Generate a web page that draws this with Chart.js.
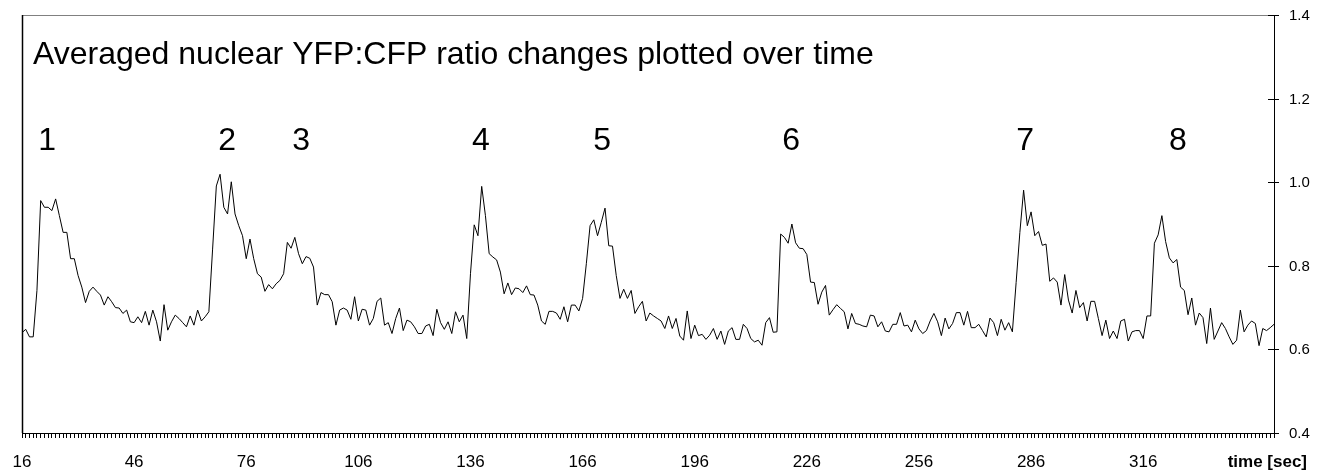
<!DOCTYPE html>
<html>
<head>
<meta charset="utf-8">
<title>YFP:CFP ratio</title>
<script src="https://cdn.jsdelivr.net/npm/chart.js@4.4.1/dist/chart.umd.min.js"></script>
<style>
  body { margin: 0; background: #fff; }
  canvas { display: block; }
</style>
</head>
<body>
<canvas id="grafico" width="1320" height="473"></canvas>
<script>
var titolo = 'Averaged nuclear YFP:CFP ratio changes plotted over time';
var startSec = 16;

// averaged nuclear YFP:CFP ratio, one value per second starting at 16 s
var ratio = [
    // 16 - 66
    0.640, 0.648, 0.630, 0.630, 0.741, 0.956, 0.940, 0.940, 0.932, 0.960,
    0.920, 0.880, 0.880, 0.817, 0.817, 0.777, 0.749, 0.712, 0.739, 0.749,
    0.739, 0.730, 0.706, 0.726, 0.714, 0.700, 0.699, 0.686, 0.694, 0.666,
    0.664, 0.678, 0.664, 0.691, 0.658, 0.694, 0.666, 0.620, 0.707, 0.646,
    0.666, 0.682, 0.674, 0.664, 0.654, 0.680, 0.658, 0.694, 0.668, 0.678,
    0.690,
    // 67 - 83
    0.840, 0.991, 1.019, 0.940, 0.924, 1.001, 0.924, 0.896, 0.872, 0.817,
    0.864, 0.817, 0.781, 0.773, 0.739, 0.755, 0.745,
    // 84 - 150
    0.757, 0.765, 0.781, 0.856, 0.842, 0.868, 0.829, 0.805, 0.822, 0.818,
    0.797, 0.706, 0.736, 0.731, 0.731, 0.714, 0.658, 0.694, 0.699, 0.694,
    0.672, 0.726, 0.668, 0.696, 0.694, 0.658, 0.674, 0.715, 0.723, 0.658,
    0.664, 0.638, 0.674, 0.699, 0.645, 0.670, 0.666, 0.654, 0.638, 0.638,
    0.656, 0.660, 0.633, 0.696, 0.664, 0.648, 0.666, 0.638, 0.690, 0.666,
    0.682, 0.626, 0.781, 0.898, 0.872, 0.990, 0.920, 0.829, 0.821, 0.814,
    0.785, 0.733, 0.759, 0.731, 0.747, 0.745, 0.736,
    // 151 - 217
    0.752, 0.731, 0.730, 0.706, 0.668, 0.660, 0.691, 0.691, 0.687, 0.672,
    0.702, 0.666, 0.706, 0.706, 0.692, 0.722, 0.805, 0.896, 0.910, 0.872,
    0.904, 0.938, 0.848, 0.847, 0.777, 0.722, 0.744, 0.722, 0.741, 0.686,
    0.702, 0.715, 0.668, 0.687, 0.680, 0.674, 0.668, 0.650, 0.680, 0.650,
    0.674, 0.632, 0.622, 0.692, 0.626, 0.658, 0.633, 0.636, 0.624, 0.634,
    0.650, 0.624, 0.644, 0.612, 0.644, 0.652, 0.624, 0.624, 0.660, 0.650,
    0.626, 0.618, 0.622, 0.610, 0.664, 0.676, 0.641,
    // 218 - 283
    0.642, 0.876, 0.868, 0.854, 0.900, 0.855, 0.842, 0.841, 0.827, 0.761,
    0.760, 0.708, 0.737, 0.753, 0.682, 0.695, 0.707, 0.698, 0.690, 0.649,
    0.686, 0.662, 0.660, 0.656, 0.654, 0.682, 0.680, 0.654, 0.666, 0.644,
    0.642, 0.660, 0.660, 0.688, 0.656, 0.658, 0.642, 0.670, 0.649, 0.638,
    0.645, 0.668, 0.686, 0.666, 0.633, 0.675, 0.649, 0.662, 0.688, 0.688,
    0.658, 0.691, 0.652, 0.652, 0.660, 0.645, 0.630, 0.675, 0.664, 0.633,
    0.672, 0.646, 0.664, 0.642, 0.760, 0.880,
    // 284 - 351
    0.981, 0.896, 0.929, 0.872, 0.882, 0.849, 0.852, 0.763, 0.771, 0.761,
    0.706, 0.779, 0.718, 0.687, 0.741, 0.700, 0.712, 0.668, 0.715, 0.715,
    0.674, 0.633, 0.670, 0.626, 0.644, 0.626, 0.668, 0.672, 0.620, 0.642,
    0.645, 0.645, 0.626, 0.680, 0.680, 0.854, 0.874, 0.920, 0.858, 0.819,
    0.807, 0.815, 0.749, 0.741, 0.683, 0.723, 0.658, 0.687, 0.676, 0.614,
    0.699, 0.624, 0.644, 0.664, 0.650, 0.630, 0.612, 0.622, 0.694, 0.642,
    0.658, 0.668, 0.662, 0.609, 0.650, 0.645, 0.652, 0.660
];

var xTickLabels = [16, 46, 76, 106, 136, 166, 196, 226, 256, 286, 316];
var yTickLabels = ['0.4', '0.6', '0.8', '1.0', '1.2', '1.4'];
var xTitle = 'time [sec]';

// numbered peaks and the second where each number sits
var peakNames = ['1', '2', '3', '4', '5', '6', '7', '8'];
var peakSec = [22.7, 70.9, 90.7, 138.8, 171.2, 221.8, 284.4, 325.3];
var peakLevel = 1.078;

var endSec = startSec + ratio.length - 1;
var punti = ratio.map(function (v, i) {
    return {x: startSec + i, y: v};
});

var font = '"Liberation Sans", Arial, sans-serif';

var cornice = {
    id: 'cornice',
    afterDraw: function (chart) {
        var ctx = chart.ctx;
        var a = chart.chartArea;
        var sx = chart.scales.x;
        var sy = chart.scales.y;
        ctx.save();

        // top and left edge of the box
        ctx.lineWidth = 1;
        ctx.strokeStyle = '#808080';
        ctx.beginPath();
        ctx.moveTo(a.left, Math.round(a.top) + 0.5);
        ctx.lineTo(a.right, Math.round(a.top) + 0.5);
        ctx.stroke();
        ctx.strokeStyle = '#000';
        ctx.lineWidth = 1.5;
        ctx.beginPath();
        ctx.moveTo(a.left + 0.5, a.top);
        ctx.lineTo(a.left + 0.5, a.bottom);
        ctx.stroke();

        // y ticks cross the right axis
        ctx.lineWidth = 1;
        ctx.fillStyle = '#000';
        ctx.font = '15px ' + font;
        ctx.textAlign = 'left';
        ctx.textBaseline = 'middle';
        sy.ticks.forEach(function (t, i) {
            var py = Math.round(sy.getPixelForValue(t.value)) + 0.5;
            ctx.beginPath();
            ctx.moveTo(a.right - 6, py);
            ctx.lineTo(a.right + 5, py);
            ctx.stroke();
            ctx.fillText(yTickLabels[i], a.right + 15, py);
        });

        // x labels
        ctx.font = '17px ' + font;
        ctx.textAlign = 'center';
        xTickLabels.forEach(function (s) {
            ctx.fillText(String(s), sx.getPixelForValue(s), a.bottom + 29);
        });
        ctx.font = 'bold 17px ' + font;
        ctx.textAlign = 'right';
        ctx.fillText(xTitle, chart.width - 13, a.bottom + 29);

        // title and peak numbers
        ctx.font = '32px ' + font;
        ctx.textAlign = 'left';
        ctx.textBaseline = 'alphabetic';
        ctx.fillText(titolo, a.left + 11, a.top + 48.5);
        ctx.textAlign = 'center';
        peakNames.forEach(function (n, i) {
            ctx.fillText(n, sx.getPixelForValue(peakSec[i]), sy.getPixelForValue(peakLevel));
        });
        ctx.restore();
    }
};

var ctx = document.getElementById('grafico');
var chart = new Chart(ctx, {
    type: 'line',
    data: {
        datasets: [{
            label: 'YFP:CFP',
            data: punti,
            borderColor: '#000',
            borderWidth: 1,
            pointRadius: 0,
            tension: 0,
            fill: false
        }]
    },
    options: {
        responsive: false,
        animation: false,
        layout: {padding: {left: 22, top: 15, right: 0, bottom: 0}},
        plugins: {
            legend: {display: false},
            tooltip: {enabled: false}
        },
        scales: {
            x: {
                type: 'linear',
                position: 'bottom',
                min: startSec,
                max: endSec,
                afterBuildTicks: function (scale) {
                    var t = [];
                    for (var s = startSec; s <= endSec; s++) {
                        t.push({value: s});
                    }
                    scale.ticks = t;
                },
                afterFit: function (scale) {
                    scale.height = 40;
                },
                ticks: {display: false},
                grid: {
                    drawOnChartArea: false,
                    drawTicks: true,
                    tickLength: 5,
                    tickColor: '#000',
                    tickWidth: 1
                },
                border: {display: true, color: '#000', width: 1}
            },
            y: {
                type: 'linear',
                position: 'right',
                min: 0.4,
                max: 1.4,
                afterBuildTicks: function (scale) {
                    scale.ticks = yTickLabels.map(function (v) {
                        return {value: parseFloat(v)};
                    });
                },
                afterFit: function (scale) {
                    scale.width = 46;
                },
                ticks: {display: false},
                grid: {drawOnChartArea: false, drawTicks: false},
                border: {display: true, color: '#000', width: 1}
            }
        }
    },
    plugins: [cornice]
});
</script>
</body>
</html>
